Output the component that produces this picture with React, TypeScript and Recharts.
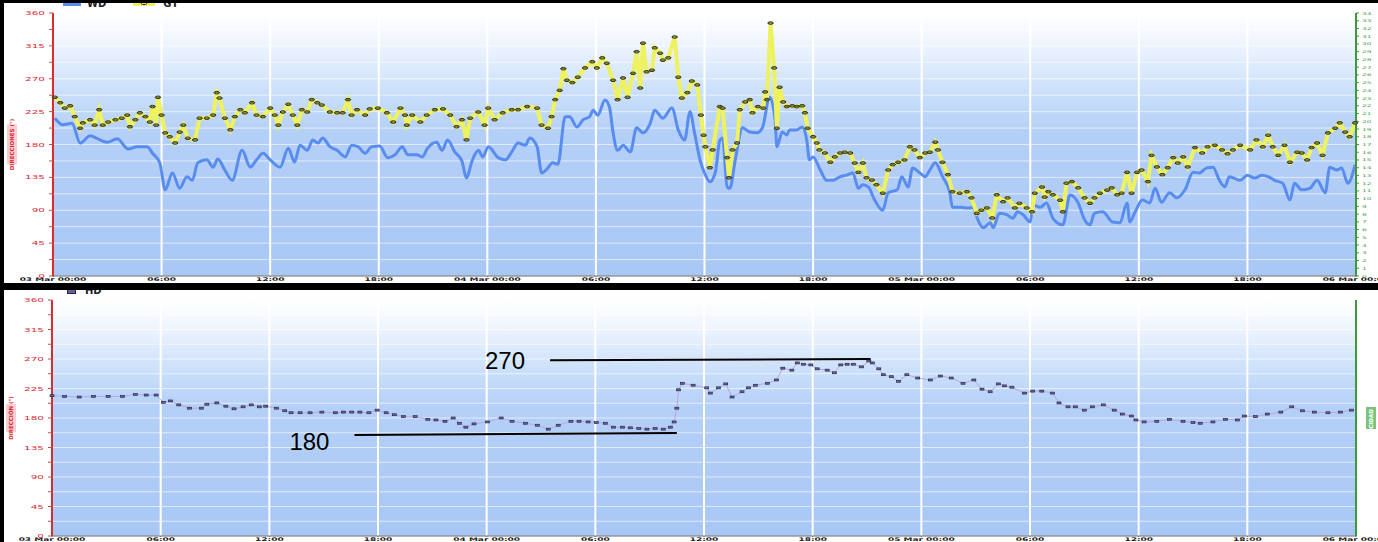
import React from "react";
import { LineChart, Line, XAxis, YAxis, CartesianGrid, ReferenceLine } from "recharts";

const X_TICKS = [0, 6, 12, 18, 24, 30, 36, 42, 48, 54, 60, 66, 72];
const X_LABELS = [
  "03 Mar 00:00", "06:00", "12:00", "18:00",
  "04 Mar 00:00", "06:00", "12:00", "18:00",
  "05 Mar 00:00", "06:00", "12:00", "18:00",
  "06 Mar 00:00",
];
const DEG_TICKS = [0, 22.5, 45, 67.5, 90, 112.5, 135, 157.5, 180, 202.5, 225, 247.5, 270, 292.5, 315, 337.5, 360];
const GT_TICKS = [0, 1, 2, 3, 4, 5, 6, 7, 8, 9, 10, 11, 12, 13, 14, 15, 16, 17, 18, 19, 20, 21, 22, 23, 24, 25, 26, 27, 28, 29, 30, 31, 32, 33, 34];

// WD (blue, degrees) — hours since 03 Mar 00:00
const WD_HOURS = [
  0.1, 0.55, 1.05, 1.5, 2.05, 2.45, 3.0, 3.55, 4.15, 4.65,
  5.2, 5.5, 5.9, 6.2, 6.6, 7.0, 7.4, 7.7, 8.0, 8.5,
  8.85, 9.1, 9.5, 9.9, 10.45, 10.9, 11.25, 11.6, 12.0, 12.55,
  13.0, 13.35, 13.65, 14.05, 14.35, 14.65, 14.9, 15.3, 15.7, 16.15,
  16.5, 16.85, 17.25, 17.6, 18.05, 18.5, 18.9, 19.3, 19.6, 20.1,
  20.4, 20.7, 21.2, 21.5, 21.8, 22.2, 22.6, 22.85, 23.15, 23.5,
  23.75, 24.05, 24.6, 25.0, 25.35, 25.7, 26.1, 26.35, 26.75, 27.0,
  27.35, 27.6, 27.9, 28.3, 28.55, 28.95, 29.3, 29.65, 29.85, 30.1,
  30.5, 30.75, 30.95, 31.2, 31.5, 31.9, 32.25, 32.6, 33.0, 33.25,
  33.7, 34.2, 34.55, 34.9, 35.2, 35.45, 35.75, 36.0, 36.3, 36.6,
  36.85, 37.0, 37.25, 37.4, 37.7, 38.1, 38.5, 38.9, 39.2, 39.6,
  39.9, 40.0, 40.3, 40.55, 40.7, 41.1, 41.4, 41.65, 41.8, 42.0,
  42.4, 42.75, 43.1, 43.5, 43.85, 44.2, 44.5, 44.75, 45.05, 45.4,
  45.85, 46.15, 46.65, 46.9, 47.25, 47.5, 47.9, 48.2, 48.45, 48.75,
  49.15, 49.55, 49.7, 50.2, 50.55, 50.85, 51.1, 51.4, 51.8, 51.95,
  52.3, 52.7, 53.05, 53.3, 53.6, 54.0, 54.15, 54.55, 54.9, 55.25,
  55.8, 56.2, 56.65, 57.0, 57.3, 57.55, 58.0, 58.55, 58.95, 59.35,
  59.5, 59.8, 60.2, 60.6, 60.9, 61.25, 61.7, 62.1, 62.55, 63.0,
  63.35, 63.75, 64.1, 64.45, 64.75, 65.0, 65.6, 66.0, 66.4, 66.8,
  67.15, 67.5, 67.95, 68.35, 68.6, 69.0, 69.45, 69.85, 70.3, 70.55,
  70.95, 71.2, 71.55, 71.95,
];
const WD_DEG = [
  216, 207, 209, 182, 192, 188, 183, 188, 174, 177,
  177, 168, 155, 118, 141, 120, 136, 131, 155, 159,
  149, 160, 145, 131, 172, 149, 159, 168, 159, 149,
  175, 156, 179, 172, 186, 182, 189, 177, 172, 163,
  179, 177, 168, 177, 178, 162, 166, 177, 166, 166,
  163, 175, 183, 172, 186, 170, 157, 134, 157, 172,
  163, 177, 162, 159, 170, 182, 179, 189, 177, 141,
  148, 155, 153, 218, 218, 204, 214, 218, 227, 220,
  241, 231, 196, 172, 179, 170, 203, 196, 209, 227,
  216, 230, 200, 186, 225, 196, 159, 141, 129, 142,
  186, 189, 122, 120, 159, 203, 197, 196, 203, 245,
  214, 177, 197, 193, 200, 200, 204, 186, 159, 163,
  145, 131, 131, 136, 138, 141, 120, 125, 122, 104,
  90, 114, 118, 136, 122, 148, 141, 136, 145, 155,
  136, 115, 94, 94, 93, 94, 77, 66, 73, 66,
  86, 84, 79, 88, 84, 74, 97, 94, 100, 79,
  70, 111, 100, 77, 70, 86, 88, 74, 73, 100,
  74, 88, 104, 100, 120, 101, 114, 107, 118, 142,
  141, 148, 149, 131, 122, 136, 131, 138, 134, 138,
  136, 131, 127, 104, 127, 118, 120, 131, 114, 149,
  145, 148, 127, 152,
];

// GT (yellow, right axis 0-34)
const GT_HOURS = [
  0.1, 0.4, 0.65, 0.95, 1.2, 1.5, 1.65, 2.05, 2.3, 2.55,
  2.75, 3.05, 3.45, 3.8, 4.1, 4.25, 4.55, 4.8, 5.1, 5.35,
  5.5, 5.7, 5.8, 6.0, 6.2, 6.45, 6.75, 7.0, 7.2, 7.45,
  7.85, 8.1, 8.5, 8.85, 9.05, 9.2, 9.5, 9.8, 10.05, 10.35,
  10.6, 11.0, 11.25, 11.6, 12.0, 12.25, 12.45, 12.7, 13.0, 13.25,
  13.5, 13.75, 14.05, 14.3, 14.6, 14.85, 15.3, 15.7, 16.0, 16.3,
  16.5, 16.8, 17.25, 17.5, 17.95, 18.45, 18.8, 19.2, 19.45, 19.55,
  19.85, 20.3, 20.65, 21.1, 21.55, 21.95, 22.3, 22.6, 22.85, 23.05,
  23.5, 23.85, 24.05, 24.4, 24.85, 25.35, 25.7, 26.2, 26.75, 27.0,
  27.35, 27.55, 27.75, 28.0, 28.2, 28.4, 28.7, 29.0, 29.4, 29.8,
  30.05, 30.35, 30.6, 30.95, 31.2, 31.5, 31.75, 32.05, 32.25, 32.45,
  32.6, 32.8, 33.1, 33.25, 33.55, 33.7, 34.0, 34.35, 34.55, 34.75,
  35.05, 35.3, 35.6, 35.8, 35.95, 36.05, 36.3, 36.45, 36.85, 37.0,
  37.25, 37.35, 37.55, 37.8, 37.95, 38.25, 38.5, 38.65, 38.95, 39.25,
  39.35, 39.45, 39.65, 39.85, 40.0, 40.15, 40.35, 40.55, 40.85, 41.1,
  41.4, 41.55, 41.7, 42.0, 42.2, 42.35, 42.65, 42.95, 43.2, 43.5,
  43.75, 44.05, 44.3, 44.5, 44.75, 44.95, 45.25, 45.5, 45.85, 46.15,
  46.4, 46.7, 47.05, 47.35, 47.6, 47.9, 48.2, 48.45, 48.75, 48.9,
  49.15, 49.45, 49.7, 50.1, 50.5, 50.75, 51.05, 51.3, 51.6, 51.9,
  52.15, 52.5, 52.75, 53.15, 53.4, 53.8, 54.1, 54.25, 54.65, 54.8,
  55.0, 55.25, 55.65, 55.8, 56.0, 56.3, 56.65, 57.0, 57.3, 57.55,
  57.85, 58.25, 58.5, 58.8, 59.05, 59.35, 59.6, 59.9, 60.15, 60.5,
  60.7, 61.0, 61.3, 61.6, 61.9, 62.15, 62.45, 62.7, 63.1, 63.5,
  63.8, 64.2, 64.6, 64.9, 65.2, 65.6, 66.15, 66.5, 66.85, 67.15,
  67.4, 67.7, 68.05, 68.35, 68.75, 69.0, 69.3, 69.55, 69.85, 70.15,
  70.45, 70.85, 71.1, 71.4, 71.65, 71.95,
];
const GT_VALUES = [
  23.1, 22.4, 21.7, 22.0, 20.6, 19.1, 19.8, 20.2, 19.5, 21.5,
  19.5, 19.9, 20.2, 20.4, 20.8, 19.3, 20.2, 21.1, 20.6, 19.9,
  21.9, 19.5, 23.1, 20.8, 18.5, 18.0, 17.2, 18.6, 19.5, 17.8,
  17.6, 20.4, 20.4, 20.8, 23.7, 23.0, 20.4, 18.9, 20.6, 21.5,
  21.1, 22.4, 20.8, 20.6, 21.7, 20.8, 19.5, 21.2, 22.2, 20.8,
  19.5, 21.5, 21.2, 22.8, 22.4, 22.1, 21.2, 21.1, 21.1, 22.8,
  20.8, 21.5, 20.8, 21.6, 21.7, 21.1, 19.9, 21.7, 20.8, 19.5,
  20.8, 19.9, 20.8, 21.5, 21.6, 20.8, 19.3, 20.2, 17.6, 20.4,
  21.2, 19.5, 21.7, 20.2, 21.1, 21.5, 21.5, 21.9, 21.7, 19.5,
  19.1, 20.6, 22.8, 24.0, 26.8, 25.3, 25.0, 25.7, 26.9, 27.7,
  26.9, 28.2, 27.5, 25.3, 22.8, 25.6, 23.1, 26.2, 29.0, 24.3,
  30.1, 26.4, 26.6, 29.5, 28.8, 27.9, 28.2, 30.9, 25.7, 23.0,
  23.7, 25.2, 24.7, 20.8, 18.2, 16.7, 14.0, 16.3, 21.9, 21.7,
  15.3, 12.7, 16.3, 17.2, 21.5, 22.5, 22.8, 21.1, 21.9, 21.7,
  23.8, 22.8, 32.7, 26.9, 19.1, 24.4, 22.5, 21.9, 22.0, 21.9,
  22.0, 21.1, 19.1, 18.0, 17.2, 16.3, 15.9, 14.7, 15.4, 15.9,
  16.0, 15.9, 14.6, 13.4, 14.6, 12.7, 12.4, 11.8, 10.7, 13.7,
  14.4, 14.7, 15.0, 16.7, 16.3, 15.3, 15.9, 16.0, 17.3, 16.3,
  14.7, 13.1, 10.9, 10.7, 10.9, 10.1, 8.1, 8.5, 8.8, 7.5,
  10.5, 9.6, 10.1, 8.8, 9.4, 8.8, 8.3, 10.7, 11.5, 10.2,
  10.9, 10.5, 9.8, 8.3, 12.0, 12.2, 11.4, 10.1, 9.4, 10.1,
  10.7, 11.1, 11.4, 10.5, 10.7, 13.4, 10.7, 13.4, 13.7, 12.2,
  15.6, 14.1, 13.1, 14.0, 15.3, 14.6, 15.4, 14.1, 16.6, 15.9,
  16.7, 16.9, 16.3, 15.8, 16.3, 16.9, 16.3, 17.6, 16.7, 18.2,
  16.7, 15.6, 16.9, 14.7, 16.0, 15.9, 15.0, 16.6, 17.2, 15.6,
  18.5, 19.1, 19.8, 18.6, 18.0, 19.8,
];

// HD (bottom chart, degrees)
const HD_HOURS = [
  0, 0.7, 1.5, 2.3, 3.1, 3.9, 4.6, 5.2, 5.75, 6.15,
  6.55, 7.0, 7.6, 8.25, 8.55, 9.1, 9.6, 10.05, 10.55, 11.0,
  11.45, 11.8, 12.4, 12.85, 13.2, 13.7, 14.25, 14.9, 15.65, 16.1,
  16.55, 17.0, 17.5, 17.95, 18.45, 18.9, 19.4, 20.05, 20.75, 21.2,
  21.7, 22.15, 22.5, 22.85, 23.3, 24.05, 24.8, 25.4, 26.15, 26.8,
  27.4, 27.95, 28.65, 29.1, 29.6, 30.05, 30.55, 31.0, 31.5, 31.95,
  32.4, 32.85, 33.3, 33.75, 34.15, 34.35, 34.5, 34.6, 34.8, 35.4,
  36.15, 36.35, 36.8, 37.2, 37.55, 38.1, 38.45, 38.85, 39.5, 40.0,
  40.35, 40.85, 41.15, 41.5, 41.9, 42.25, 42.8, 43.2, 43.55, 43.9,
  44.25, 44.7, 45.1, 45.3, 45.65, 45.9, 46.35, 46.75, 47.2, 47.8,
  48.5, 49.05, 49.65, 50.3, 50.9, 51.35, 51.8, 52.25, 52.6, 53.0,
  53.7, 54.15, 54.65, 55.25, 55.6, 56.1, 56.5, 57.0, 57.45, 58.05,
  58.65, 59.1, 59.6, 59.85, 60.3, 61.0, 61.7, 62.45, 63.0, 63.4,
  64.1, 64.8, 65.45, 65.85, 66.45, 67.1, 67.85, 68.45, 69.05, 69.7,
  70.45, 71.15, 71.75,
];
const HD_DEG = [
  214, 213, 212, 213, 213, 213, 216, 215, 215, 204,
  206, 200, 195, 195, 201, 203, 198, 194, 197, 200,
  197, 198, 195, 191, 188, 188, 188, 189, 188, 189,
  189, 189, 188, 192, 188, 185, 182, 182, 178, 177,
  175, 180, 172, 166, 171, 174, 180, 175, 172, 169,
  163, 169, 175, 175, 174, 173, 172, 166, 166, 165,
  164, 163, 164, 163, 166, 174, 195, 223, 233, 230,
  226, 218, 226, 232, 212, 220, 226, 230, 233, 238,
  256, 253, 264, 262, 261, 255, 253, 249, 261, 262,
  262, 258, 267, 264, 255, 246, 243, 236, 246, 241,
  238, 244, 241, 233, 238, 224, 220, 232, 229, 227,
  218, 221, 221, 218, 203, 197, 197, 192, 197, 200,
  192, 186, 183, 177, 174, 175, 178, 175, 173, 172,
  174, 178, 177, 183, 182, 186, 189, 197, 191, 189,
  188, 189, 192,
];

const RED = "#dc2a33";
const GREEN = "#3b9a3b";
const BLUE = "#588cee";
const YELLOW = "#eef25e";

const wdData = WD_HOURS.map((h, i) => ({ h, v: WD_DEG[i] }));
const gtData = GT_HOURS.map((h, i) => ({ h, v: GT_VALUES[i] }));
const hdData = HD_HOURS.map((h, i) => ({ h, v: HD_DEG[i] }));

function XTick({ x, y, payload }: any) {
  const label = X_LABELS[X_TICKS.indexOf(payload.value)];
  return (
    <g transform={`translate(${x},${y}) scale(1.45,0.8)`}>
      <text textAnchor="middle" y={5} fontSize={6.2} fontWeight="bold" fill="#1e1e1e">
        {label}
      </text>
    </g>
  );
}

function DegTick({ x, y, payload }: any) {
  if (payload.value % 45 !== 0) return null;
  return (
    <g transform={`translate(${x},${y}) scale(1.5,0.8)`}>
      <text textAnchor="end" dy={2.5} fontSize={7} fill={RED}>
        {payload.value}
      </text>
    </g>
  );
}

function GtTick({ x, y, payload }: any) {
  return (
    <g transform={`translate(${x},${y}) scale(1.5,0.75)`}>
      <text textAnchor="start" dy={2} fontSize={5} fill={GREEN}>
        {payload.value}
      </text>
    </g>
  );
}

function AxisTitle({ viewBox, text, color, bg, dx, len }: any) {
  const cx = viewBox.x + dx;
  const cy = viewBox.y + viewBox.height / 2;
  return (
    <g transform={`translate(${cx},${cy}) rotate(-90)`}>
      <rect x={-len / 2} y={-5} width={len} height={10} fill={bg} />
      <text textAnchor="middle" dy={2} fontSize={5.5} fontWeight="bold" fill={color}>
        {text}
      </text>
    </g>
  );
}

function NoteLabel({ viewBox, text, dy }: any) {
  const x = viewBox.x ?? viewBox.x1 ?? 0;
  const y = viewBox.y ?? viewBox.y1 ?? 0;
  const hgt = viewBox.height ?? 0;
  return (
    <text
      x={x - 25}
      y={y + hgt / 2 + dy}
      textAnchor="end"
      dominantBaseline="central"
      fontSize={24}
      fontFamily="Liberation Sans, Arial, sans-serif"
      fill="#000"
    >
      {text}
    </text>
  );
}

function GtDot({ cx, cy }: any) {
  if (cx == null || cy == null) return null;
  return (
    <g>
      <ellipse cx={cx} cy={cy} rx={2.7} ry={1.3} fill="#d4d650" stroke="#1e1e16" strokeWidth={0.9} />
      <line x1={cx - 2.7} x2={cx + 2.7} y1={cy} y2={cy} stroke="#1e1e16" strokeWidth={0.6} />
    </g>
  );
}

function HdDot({ cx, cy }: any) {
  if (cx == null || cy == null) return null;
  return <rect x={cx - 2} y={cy - 1} width={4} height={2} fill="#6a6494" stroke="#1e1e44" strokeWidth={0.6} />;
}

function Gradient({ id }: { id: string }) {
  return (
    <linearGradient id={id} x1="0" y1="0" x2="0" y2="1">
      <stop offset="0%" stopColor="#ffffff" />
      <stop offset="12%" stopColor="#eef4fd" />
      <stop offset="30%" stopColor="#cadffa" />
      <stop offset="45%" stopColor="#b5d0f7" />
      <stop offset="100%" stopColor="#a8c7f4" />
    </linearGradient>
  );
}

export default function App() {
  return (
    <div
      style={{
        position: "fixed", left: 0, top: 0, width: 1378, height: 542,
        background: "#000", overflow: "hidden", fontFamily: "DejaVu Sans, sans-serif",
      }}
    >
      {/* top panel: WD + GT */}
      <div style={{ position: "absolute", left: 4, top: 3, width: 1374, height: 280, background: "#fff", overflow: "hidden" }}>
        <LineChart width={1374} height={280} margin={{ top: 10, right: 0, bottom: 0, left: 0 }}>
          <defs>
            <Gradient id="bgTop" />
          </defs>
          <XAxis
            xAxisId="t" dataKey="h" type="number" domain={[0, 72]} ticks={X_TICKS} interval={0}
            height={7} tickSize={1} tickMargin={0} tick={XTick}
            axisLine={{ stroke: "#6a6a6a" }} tickLine={{ stroke: "#6a6a6a" }}
          />
          <YAxis
            yAxisId="deg" orientation="left" width={49} domain={[0, 360]} ticks={DEG_TICKS} interval={0}
            tickSize={4} tickMargin={4} tick={DegTick}
            axisLine={{ stroke: RED, strokeWidth: 2 }} tickLine={{ stroke: "#c05050" }}
            label={(p: any) => <AxisTitle {...p} text="DIRECCIONES (°)" color={RED} bg="#f8d0d3" dx={8} len={40} />}
          />
          <YAxis
            yAxisId="gt" orientation="right" width={22} domain={[0, 34]} ticks={GT_TICKS} interval={0}
            tickSize={3} tickMargin={3} tick={GtTick}
            axisLine={{ stroke: GREEN, strokeWidth: 2 }} tickLine={{ stroke: GREEN }}
          />
          <CartesianGrid xAxisId="t" yAxisId="deg" vertical={false} fill="url(#bgTop)" stroke="#ffffff" strokeOpacity={0.6} />
          <CartesianGrid xAxisId="t" yAxisId="deg" horizontal={false} stroke="#ffffff" strokeWidth={2} />
          <Line
            xAxisId="t" yAxisId="deg" data={wdData} dataKey="v" type="monotone"
            stroke={BLUE} strokeWidth={3} dot={false} isAnimationActive={false}
          />
          <Line
            xAxisId="t" yAxisId="gt" data={gtData} dataKey="v" type="linear"
            stroke={YELLOW} strokeWidth={4} dot={<GtDot />} activeDot={false} isAnimationActive={false}
          />
        </LineChart>
        <div
          style={{
            position: "absolute", left: 59, top: -4, display: "flex", alignItems: "center",
            fontSize: 10, fontWeight: "bold", color: "#222", lineHeight: "10px",
          }}
        >
          <span style={{ display: "inline-block", width: 18, height: 3, background: BLUE, marginRight: 6 }} />
          <span>WD</span>
          <span style={{ display: "inline-block", position: "relative", width: 22, height: 4, background: YELLOW, marginLeft: 27, marginRight: 8 }}>
            <span style={{ position: "absolute", left: 8, top: 0, width: 6, height: 3, borderRadius: 3, border: "1px solid #2a2a1e", boxSizing: "border-box" }} />
          </span>
          <span>GT</span>
        </div>
      </div>

      {/* bottom panel: HD */}
      <div style={{ position: "absolute", left: 4, top: 290, width: 1374, height: 252, background: "#fff", overflow: "hidden" }}>
        <LineChart width={1374} height={252} margin={{ top: 10, right: 0, bottom: 0, left: 0 }}>
          <defs>
            <Gradient id="bgBottom" />
          </defs>
          <XAxis
            xAxisId="t" dataKey="h" type="number" domain={[0, 72]} ticks={X_TICKS} interval={0}
            height={6} tickSize={1} tickMargin={0} tick={XTick}
            axisLine={{ stroke: "#6a6a6a" }} tickLine={{ stroke: "#6a6a6a" }}
          />
          <YAxis
            yAxisId="deg" orientation="left" width={48} domain={[0, 360]} ticks={DEG_TICKS} interval={0}
            tickSize={4} tickMargin={4} tick={DegTick}
            axisLine={{ stroke: RED, strokeWidth: 2 }} tickLine={{ stroke: "#c05050" }}
            label={(p: any) => <AxisTitle {...p} text="DIRECCIÓN (°)" color={RED} bg="#f8d0d3" dx={7} len={28} />}
          />
          <YAxis
            yAxisId="spd" orientation="right" width={22} domain={[0, 34]} tick={false} tickLine={false}
            axisLine={{ stroke: GREEN, strokeWidth: 2 }}
            label={(p: any) => <AxisTitle {...p} text="VELOCIDAD (m/s)" color="#ffffff" bg="#7cc47c" dx={15} len={22} />}
          />
          <CartesianGrid xAxisId="t" yAxisId="deg" vertical={false} fill="url(#bgBottom)" stroke="#ffffff" strokeOpacity={0.6} />
          <CartesianGrid xAxisId="t" yAxisId="deg" horizontal={false} stroke="#ffffff" strokeWidth={2} />
          <Line
            xAxisId="t" yAxisId="deg" data={hdData} dataKey="v" type="linear"
            stroke="#b9a6dc" strokeWidth={1} dot={<HdDot />} activeDot={false} isAnimationActive={false}
          />
          <ReferenceLine
            xAxisId="t" yAxisId="deg" segment={[{ x: 27.5, y: 268 }, { x: 45.2, y: 270 }]}
            stroke="#000" strokeWidth={2} ifOverflow="visible"
            label={(p: any) => <NoteLabel {...p} text="270" dy={1} />}
          />
          <ReferenceLine
            xAxisId="t" yAxisId="deg" segment={[{ x: 16.7, y: 154 }, { x: 34.5, y: 157 }]}
            stroke="#000" strokeWidth={2} ifOverflow="visible"
            label={(p: any) => <NoteLabel {...p} text="180" dy={7} />}
          />
        </LineChart>
        <div
          style={{
            position: "absolute", left: 63, top: -4, display: "flex", alignItems: "center",
            fontSize: 10, fontWeight: "bold", color: "#222", lineHeight: "10px",
          }}
        >
          <span style={{ display: "inline-block", width: 7, height: 3, border: "1px solid #262652", background: "#6a6494", marginRight: 9 }} />
          <span>HD</span>
        </div>
      </div>
    </div>
  );
}
